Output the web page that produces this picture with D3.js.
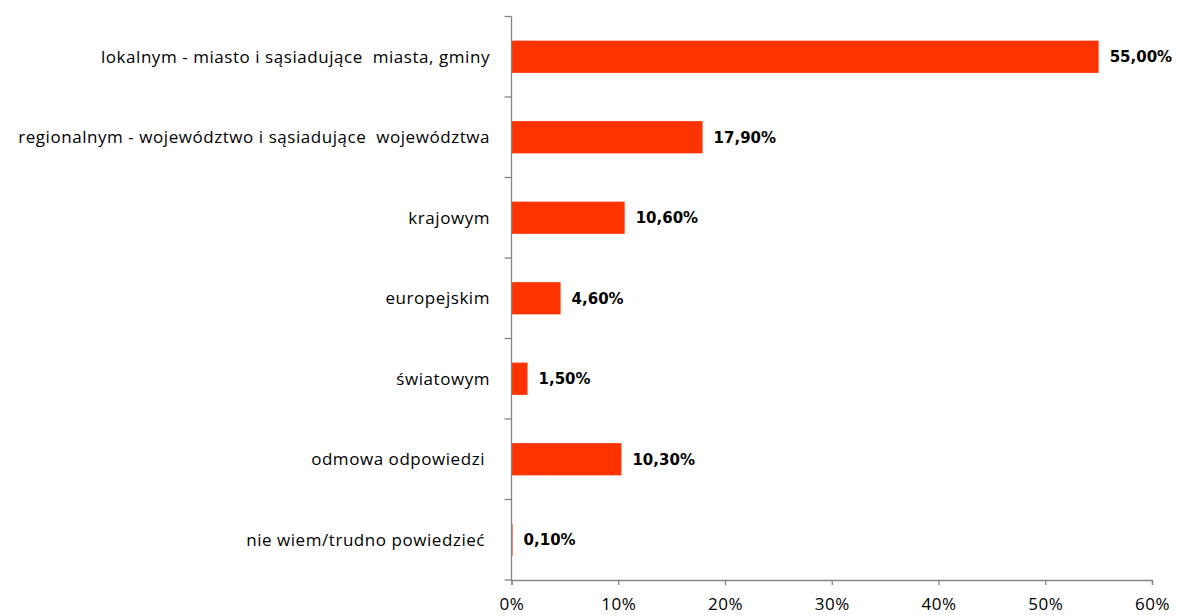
<!DOCTYPE html>
<html>
<head>
<meta charset="utf-8">
<script src="https://cdn.jsdelivr.net/npm/d3@7"></script>
<style>
  html, body { margin: 0; padding: 0; background: #fff; }
  svg { display: block; }
  text { white-space: pre; }
</style>
</head>
<body>
<svg id="chart" width="1177" height="615"></svg>
<script>
// Survey answers: range of the company's market
const categories = [
  "lokalnym - miasto i sąsiadujące  miasta, gminy",
  "regionalnym - województwo i sąsiadujące  województwa",
  "krajowym",
  "europejskim",
  "światowym",
  "odmowa odpowiedzi ",
  "nie wiem/trudno powiedzieć "
];
const values = [55.0, 17.9, 10.6, 4.6, 1.5, 10.3, 0.1];
const xTicks = [0, 10, 20, 30, 40, 50, 60];

(function draw() {
  const svg = d3.select("#chart");
  const plotLeft = 511.5, plotRight = 1152, plotTop = 16.5, plotBottom = 580;

  const x = d3.scaleLinear().domain([0, 60]).range([plotLeft, plotRight]);
  const y = d3.scaleBand().domain(categories).range([plotTop, plotBottom])
    .paddingInner(0.6).paddingOuter(0.3);

  const barColor = "#ff3300";
  const axisColor = "#868686";

  // bars
  svg.selectAll("rect.bar")
    .data(values)
    .enter().append("rect")
    .attr("class", "bar")
    .attr("x", x(0))
    .attr("y", (d, i) => y(categories[i]))
    .attr("width", d => x(d) - x(0))
    .attr("height", y.bandwidth())
    .attr("fill", barColor);

  // value labels
  svg.selectAll("text.val")
    .data(values)
    .enter().append("text")
    .attr("class", "val")
    .attr("x", d => x(d) + 11)
    .attr("y", (d, i) => y(categories[i]) + y.bandwidth() / 2)
    .attr("dy", "0.36em")
    .attr("font-family", "DejaVu Sans, Verdana, sans-serif")
    .attr("font-weight", "bold")
    .attr("font-size", 15)
    .attr("fill", "#000")
    .text(d => d.toFixed(2).replace(".", ",") + "%");

  // category axis: boundaries between categories
  const step = (plotBottom - plotTop) / categories.length;
  const boundaries = d3.range(categories.length + 1).map(i => plotTop + i * step);
  svg.append("line")
    .attr("x1", plotLeft).attr("x2", plotLeft)
    .attr("y1", plotTop).attr("y2", plotBottom)
    .attr("stroke", axisColor).attr("stroke-width", 1.3);
  svg.selectAll("line.ytick")
    .data(boundaries)
    .enter().append("line")
    .attr("class", "ytick")
    .attr("x1", plotLeft - 7).attr("x2", plotLeft)
    .attr("y1", d => d).attr("y2", d => d)
    .attr("stroke", axisColor).attr("stroke-width", 1.3);

  svg.selectAll("text.cat")
    .data(categories)
    .enter().append("text")
    .attr("class", "cat")
    .attr("x", 490)
    .attr("y", d => y(d) + y.bandwidth() / 2)
    .attr("dy", "0.36em")
    .attr("text-anchor", "end")
    .attr("font-family", "Open Sans, sans-serif")
    .attr("font-size", 17)
    .attr("letter-spacing", 0.55)
    .attr("fill", "#000")
    .text(d => d);

  // value axis
  const xAxis = svg.append("g").attr("transform", `translate(0,${plotBottom})`)
    .call(d3.axisBottom(x).tickValues(xTicks).tickSize(5).tickPadding(13)
      .tickFormat(d => d + "%"));
  xAxis.select(".domain").attr("stroke", axisColor).attr("stroke-width", 1.3);
  xAxis.selectAll(".tick line").attr("stroke", axisColor).attr("stroke-width", 1.3);
  xAxis.selectAll(".tick text")
    .attr("font-family", "Open Sans, sans-serif")
    .attr("font-size", 17)
    .attr("letter-spacing", 0.5)
    .attr("fill", "#000");
})();
</script>
</body>
</html>
